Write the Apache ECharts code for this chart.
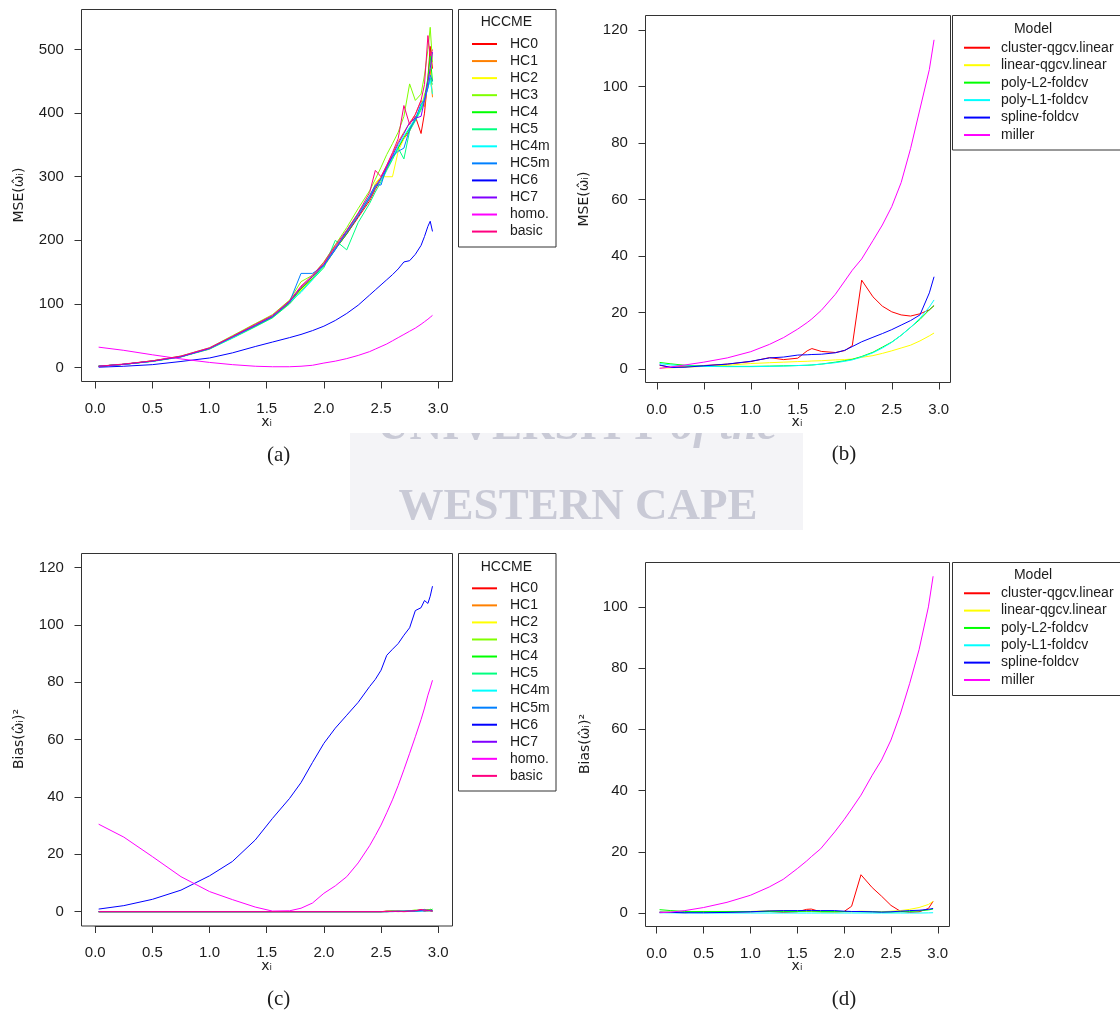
<!DOCTYPE html>
<html>
<head>
<meta charset="utf-8">
<script src="https://cdn.jsdelivr.net/npm/echarts@6/dist/echarts.min.js"></script>
<style>
  html, body { margin: 0; padding: 0; background: #fff; }
  #chart { width: 1120px; height: 1012px; }
</style>
</head>
<body>
<div id="chart"></div>
<script>
// ---------------- data ----------------
// x_i positions used by the HCCME panels (a) and (c)
const xHC = [0.03, 0.25, 0.5, 0.75, 1.0, 1.2, 1.4, 1.55, 1.7, 1.8, 1.9, 2.0, 2.1, 2.2, 2.3, 2.4, 2.45, 2.5, 2.55, 2.6, 2.65, 2.7, 2.75, 2.8, 2.85, 2.88, 2.91, 2.93, 2.95];

// (a) MSE of each HCCME
const mseHC0   = [2, 5, 10.5, 17, 30, 47, 65, 79, 101, 124, 140, 160, 186, 210, 236, 262, 280, 296, 312, 330, 346, 360, 372, 395, 368, 400, 455, 505, 470];
const mseHC1   = [2, 5, 10, 17.5, 29, 48, 67, 81, 104, 126, 143, 163, 190, 214, 241, 270, 287, 300, 318, 336, 355, 370, 385, 398, 420, 410, 450, 470, 425];
const mseHC2   = [2, 5, 10, 17, 30, 48, 66, 80, 102, 122, 140, 158, 186, 212, 238, 265, 290, 300, 300, 300, 340, 360, 378, 390, 410, 430, 440, 455, 430];
const mseHC3   = [2, 5, 10.5, 18, 31, 50, 69, 83, 106, 135, 145, 166, 193, 220, 250, 278, 296, 315, 335, 352, 370, 395, 446, 420, 430, 460, 500, 535, 480];
const mseHC4   = [2, 5, 10, 17, 30, 48, 65, 79, 102, 124, 140, 160, 186, 210, 238, 266, 283, 297, 313, 330, 345, 362, 376, 390, 408, 425, 455, 490, 450];
const mseHC5   = [2, 5, 9.5, 16.5, 29, 46, 64, 78, 100, 120, 138, 157, 200, 185, 228, 258, 276, 292, 310, 327, 345, 328, 372, 388, 405, 420, 440, 455, 445];
const mseHC4m  = [2, 5, 10, 17, 30, 47, 66, 80, 103, 118, 138, 160, 187, 214, 240, 268, 284, 296, 314, 330, 348, 364, 378, 392, 410, 425, 440, 452, 430];
const mseHC5m  = [2, 5, 10, 17, 30, 48, 66, 80, 103, 148, 148, 160, 185, 215, 242, 270, 287, 287, 316, 332, 340, 345, 375, 390, 415, 420, 440, 460, 450];
const mseHC6   = [0.5, 2, 4.5, 9.5, 15, 23, 33, 40, 47, 52, 58, 65, 74, 85, 98, 114, 122, 130, 138, 146, 155, 166, 168, 178, 192, 206, 222, 230, 214];
const mseHC7   = [2, 5, 10, 17, 30, 48, 66, 80, 103, 126, 143, 162, 188, 212, 238, 266, 284, 298, 315, 333, 352, 368, 385, 392, 395, 420, 450, 470, 496];
const mseHomo  = [32, 27, 20, 13.5, 8, 4.5, 2, 1.2, 1.2, 2, 3.5, 7, 10, 14, 19, 25, 29, 33, 37, 42, 47, 52, 57, 62, 68, 72, 76, 79, 82];
const mseBasic = [2, 5.5, 10.5, 18, 31, 49, 68, 82, 105, 128, 145, 165, 192, 216, 243, 275, 310, 300, 318, 338, 360, 412, 382, 398, 420, 445, 522, 490, 500];

// (c) squared bias: HC6 and homo. over the full x range
const biasHC6  = [0.9, 2.1, 4.3, 7.5, 12.5, 17.5, 25, 32.5, 39.5, 45, 52, 58.7, 64, 68.5, 73, 78.5, 81, 84.2, 89.4, 91.5, 93.5, 96.4, 99, 105, 106, 108.5, 107.5, 110, 113.5];
const biasHomo = [30.5, 26, 19.2, 12.2, 7, 4.2, 1.6, 0.2, 0.3, 1.2, 3, 6.4, 9, 12.2, 17, 23, 26.5, 30.2, 34.5, 39, 44, 49.5, 55.2, 61, 67, 71, 75.5, 78, 80.7];
// (c) squared bias of the remaining estimators, which stay close to zero
const xHCflat   = [0.03, 2.5, 2.55, 2.6, 2.65, 2.7, 2.75, 2.8, 2.85, 2.88, 2.91, 2.93, 2.95];
const biasHC0   = [0, 0, 0.2, 0.2, 0.1, 0, 0.1, 0.3, 0.5, 0.2, 0.4, 0.3, 0.1];
const biasHC1   = [0, 0, 0.1, 0.1, 0, 0.1, 0.2, 0.2, 0.6, 0.3, 0.2, 0.5, 0.2];
const biasHC2   = [0, 0, 0, 0.1, 0.1, 0.1, 0.2, 0.1, 0.4, 0.5, 0.3, 0.2, 0.4];
const biasHC3   = [0, 0, 0, 0.1, 0.2, 0.1, 0.3, 0.6, 0.3, 0.8, 0.4, 0.9, 0.5];
const biasHC4   = [0, 0, 0.1, 0.2, 0.1, 0.2, 0.3, 0.4, 0.6, 0.4, 0.7, 0.5, 0.9];
const biasHC5   = [0, 0, 0.1, 0.1, 0.2, 0.2, 0.3, 0.2, 0.3, 0.5, 0.4, 0.6, 0.3];
const biasHC4m  = [0, 0, 0, 0.1, 0.1, 0.2, 0.1, 0.3, 0.2, 0.4, 0.3, 0.2, 0.5];
const biasHC5m  = [0, 0, 0, 0, 0.1, 0.1, 0.2, 0.1, 0.3, 0.2, 0.4, 0.3, 0.2];
const biasHC7   = [0, 0, 0, 0.1, 0.1, 0.1, 0.2, 0.4, 0.5, 0.7, 0.3, 0.5, 0.4];
const biasBasic = [0, 0, 0.1, 0.1, 0.2, 0.1, 0.2, 0.3, 0.8, 0.4, 0.6, 0.3, 0.2];

// x_i positions used by the model panels (b) and (d)
const xModel = [0.03, 0.15, 0.3, 0.5, 0.75, 1.0, 1.2, 1.35, 1.5, 1.6, 1.65, 1.75, 1.9, 2.0, 2.08, 2.18, 2.3, 2.4, 2.5, 2.6, 2.7, 2.8, 2.9, 2.95];

// (b) MSE of each variance model
const mseCluster = [1.4, 0.7, 0.9, 1.3, 1.8, 2.7, 4.1, 3.4, 3.9, 6.5, 7.3, 6.3, 5.9, 6.6, 8.3, 31.5, 25.6, 22.3, 20.3, 19.2, 18.8, 19.6, 21, 22.5];
const mseLinear  = [0.4, 0.5, 0.7, 1.0, 1.4, 2.0, 2.3, 2.5, 2.7, 2.8, 2.9, 3.0, 3.3, 3.4, 3.6, 4.2, 4.8, 5.6, 6.5, 7.5, 8.5, 10.0, 11.8, 12.8];
const msePolyL2  = [2.4, 1.9, 1.4, 1.1, 1.0, 1.0, 1.1, 1.2, 1.3, 1.4, 1.5, 1.8, 2.5, 3.0, 3.5, 4.5, 6.0, 7.8, 9.6, 12, 14.8, 17.6, 21, 22.5];
const msePolyL1  = [2.0, 1.5, 1.2, 1.0, 0.9, 0.9, 1.0, 1.1, 1.3, 1.4, 1.5, 1.8, 2.3, 2.8, 3.3, 4.3, 5.8, 7.5, 9.5, 12, 14.8, 18, 22, 24.5];
const mseSpline  = [1.5, 0.6, 0.7, 1.2, 1.8, 2.8, 4.0, 4.3, 5.0, 5.1, 5.2, 5.3, 5.8, 6.7, 8.0, 9.7, 11.3, 12.6, 14, 15.6, 17.2, 19.2, 27, 32.7];
const mseMiller  = [0.3, 0.8, 1.5, 2.5, 4, 6.2, 8.8, 11.2, 14.2, 16.5, 17.8, 20.8, 26.5, 31.2, 35, 39, 45.5, 51, 57.5, 66, 78, 92, 106, 116.5];

// (d) squared bias of each variance model
const biasCluster = [0.2, 0.2, 0.1, 0.5, 0.3, 0.4, 0.5, 0.2, 0.4, 1.2, 1.3, 0.4, 0.3, 0.5, 2.2, 12.5, 8.3, 5.5, 2.5, 0.6, 0.2, 0.4, 1.5, 3.8];
const biasLinear  = [0.3, 0.3, 0.2, 0.2, 0.5, 0.5, 0.8, 0.8, 0.5, 0.5, 0.5, 0.3, 0.3, 0.4, 0.4, 0.6, 0.5, 0.4, 0.6, 0.8, 1.2, 1.8, 2.8, 3.8];
const biasPolyL2  = [1.1, 0.8, 0.5, 0.5, 0.5, 0.5, 0.5, 0.5, 0.5, 0.6, 0.6, 0.5, 0.5, 0.5, 0.5, 0.4, 0.4, 0.3, 0.3, 0.4, 0.5, 0.7, 1.0, 1.3];
const biasPolyL1  = [0.1, 0.05, 0.05, 0, 0, 0, 0, 0, 0, 0, 0, 0, 0, 0, 0, 0, 0, 0, 0, 0, 0, 0, 0.05, 0.1];
const biasSpline  = [0.3, 0.2, 0.1, 0.1, 0.2, 0.4, 0.7, 0.8, 0.8, 0.8, 0.8, 0.8, 0.8, 0.6, 0.5, 0.5, 0.4, 0.3, 0.4, 0.6, 0.8, 0.9, 1.2, 1.5];
const biasMiller  = [0.1, 0.3, 0.8, 1.8, 3.5, 5.8, 8.5, 11, 14.5, 17, 18.4, 21, 26.5, 30.5, 34, 38.5, 45, 50, 56.5, 65, 75, 86, 100, 110];

// series names and axis ticks (first tick, last tick, step)
const hcNames    = ['HC0', 'HC1', 'HC2', 'HC3', 'HC4', 'HC5', 'HC4m', 'HC5m', 'HC6', 'HC7', 'homo.', 'basic'];
const modelNames = ['cluster-qgcv.linear', 'linear-qgcv.linear', 'poly-L2-foldcv', 'poly-L1-foldcv', 'spline-foldcv', 'miller'];
const xTicks  = [0, 3, 0.5];
const yTicksA = [0, 500, 100];
const yTicksB = [0, 120, 20];
const yTicksC = [0, 120, 20];
const yTicksD = [0, 100, 20];

// ---------------- styling ----------------
const hcColors    = ['#FF0000', '#FF8000', '#FFFF00', '#80FF00', '#00FF00', '#00FF80', '#00FFFF', '#0080FF', '#0000FF', '#8000FF', '#FF00FF', '#FF0080'];
const modelColors = ['#FF0000', '#FFFF00', '#00FF00', '#00FFFF', '#0000FF', '#FF00FF'];
const SANS  = '"Liberation Sans", Arial, sans-serif';
const SERIF = '"Liberation Serif", "Times New Roman", serif';
const MATH  = '"DejaVu Sans", sans-serif';
const INK   = '#1c1c1c';
const FRAME = '#333333';

// plot boxes (pixels) and the data window each one shows
const panels = [
  { box: { l: 81.5,  t: 9.5,   w: 371, h: 372 },   x: [-0.12, 3.125], y: [-22, 563],    yTicks: yTicksA },
  { box: { l: 645.5, t: 15.5,  w: 305, h: 367 },   x: [-0.12, 3.125], y: [-4.7, 125.1], yTicks: yTicksB },
  { box: { l: 81.5,  t: 553.5, w: 371, h: 372.5 }, x: [-0.12, 3.125], y: [-5, 124.9],   yTicks: yTicksC },
  { box: { l: 645.5, t: 562.5, w: 304, h: 364 },   x: [-0.12, 3.125], y: [-4.4, 114.5], yTicks: yTicksD }
];

const zip = (xs, ys) => ys.map((v, i) => [xs[i], v]);

// Framed plotting grids carry the curves; their own axes stay hidden.
const grids = [], xAxes = [], yAxes = [];
panels.forEach((p, i) => {
  const b = p.box;
  grids.push({ left: b.l, top: b.t, width: b.w, height: b.h,
               show: true, borderColor: FRAME, borderWidth: 1, backgroundColor: 'transparent' });
  xAxes.push({ type: 'value', gridIndex: i, min: p.x[0], max: p.x[1], show: false });
  yAxes.push({ type: 'value', gridIndex: i, min: p.y[0], max: p.y[1], show: false });
});

// Tick scales: one grid per axis spanning exactly the first-to-last tick.
// The companion (hidden) axis runs from -PAD to 1 so that its zero, where the
// visible axis line and ticks sit, falls exactly on the frame edge; the labels
// are laid out from the tick grid's outer edge, PAD of a box beyond the frame.
const PAD = 0.02;
const X_LABEL_GAP = 19.6;   // frame edge to label distance, horizontal scale
const Y_LABEL_GAP = 17.6;   // frame edge to label distance, vertical scale
const tickAxis = (gridIndex, t, fmt, margin) => ({
  type: 'value', gridIndex, min: t[0], max: t[1], interval: t[2],
  splitLine: { show: false },
  axisLine: { show: true, onZero: true, lineStyle: { color: FRAME, width: 1 } },
  axisTick: { show: true, length: 7, lineStyle: { color: FRAME, width: 1 } },
  axisLabel: { show: true, margin, formatter: fmt, fontFamily: SANS, fontSize: 15, color: INK,
               showMinLabel: true, showMaxLabel: true }
});
const hiddenAxis = gridIndex => ({ type: 'value', gridIndex, min: -PAD, max: 1, show: false });

panels.forEach(p => {
  const b = p.box;
  const px = v => b.l + (v - p.x[0]) / (p.x[1] - p.x[0]) * b.w;
  const py = v => b.t + b.h - (v - p.y[0]) / (p.y[1] - p.y[0]) * b.h;
  // horizontal scale along the bottom edge
  let g = grids.length;
  grids.push({ left: px(xTicks[0]), width: px(xTicks[1]) - px(xTicks[0]),
               top: b.t, height: b.h * (1 + PAD), show: false });
  xAxes.push(tickAxis(g, xTicks, v => v.toFixed(1), X_LABEL_GAP - PAD * b.h));
  yAxes.push(hiddenAxis(g));
  // vertical scale along the left edge
  g = grids.length;
  grids.push({ left: b.l - b.w * PAD, width: b.w * (1 + PAD),
               top: py(p.yTicks[1]), height: py(p.yTicks[0]) - py(p.yTicks[1]), show: false });
  yAxes.push(tickAxis(g, p.yTicks, v => String(v), Y_LABEL_GAP - PAD * b.w));
  xAxes.push(hiddenAxis(g));
});

function line(name, color, idx, data) {
  return {
    type: 'line', name, xAxisIndex: idx, yAxisIndex: idx, data,
    showSymbol: false, symbol: 'none', silent: true, animation: false,
    lineStyle: { color, width: 1 }, itemStyle: { color },
    emphasis: { disabled: true }
  };
}

const seriesA = [mseHC0, mseHC1, mseHC2, mseHC3, mseHC4, mseHC5, mseHC4m, mseHC5m, mseHC6, mseHC7, mseHomo, mseBasic]
  .map((ys, k) => line(hcNames[k], hcColors[k], 0, zip(xHC, ys)));

const cFlat = { HC0: biasHC0, HC1: biasHC1, HC2: biasHC2, HC3: biasHC3, HC4: biasHC4, HC5: biasHC5,
                HC4m: biasHC4m, HC5m: biasHC5m, HC7: biasHC7, basic: biasBasic };
const seriesC = hcNames.map((n, k) => {
  if (n === 'HC6')   return line(n, hcColors[k], 2, zip(xHC, biasHC6));
  if (n === 'homo.') return line(n, hcColors[k], 2, zip(xHC, biasHomo));
  return line(n, hcColors[k], 2, zip(xHCflat, cFlat[n]));
});

const seriesB = [mseCluster, mseLinear, msePolyL2, msePolyL1, mseSpline, mseMiller]
  .map((ys, k) => line(modelNames[k], modelColors[k], 1, zip(xModel, ys)));
const seriesD = [biasCluster, biasLinear, biasPolyL2, biasPolyL1, biasSpline, biasMiller]
  .map((ys, k) => line(modelNames[k], modelColors[k], 3, zip(xModel, ys)));

function legend(names, left, top, rowH, textPad, itemW) {
  return {
    orient: 'vertical', left, top, padding: 0, itemGap: 0,
    itemWidth: itemW, itemHeight: 2, icon: 'rect', selectedMode: false,
    data: names,
    textStyle: { fontFamily: SANS, fontSize: 14, color: INK, lineHeight: rowH, padding: [0, 0, 0, textPad] }
  };
}

// ---------------- decorations: frames, titles, captions ----------------
const txt = (x, y, text, font, extra) => Object.assign({
  type: 'text', x, y, z: 10, silent: true,
  style: Object.assign({ text, font, fill: INK, align: 'center', verticalAlign: 'middle' }, extra || {})
});
const frame = (x, y, w, h) => ({
  type: 'rect', z: 10, silent: true, shape: { x, y, width: w, height: h },
  style: { fill: 'none', stroke: FRAME, lineWidth: 1 }
});
const rot = Math.PI / 2;
const MARK = '#c9cad6';

const graphics = [
  // university watermark sitting behind the figures
  { type: 'rect', z: -5, silent: true, shape: { x: 350, y: 433, width: 453, height: 97 }, style: { fill: '#f4f4f7' } },
  { type: 'text', z: -4, silent: true, x: 577, y: 427.5,
    style: { text: '{u|UNIVERSITY }{i|of the}', align: 'center', verticalAlign: 'middle', fill: MARK,
             rich: { u: { font: 'bold 45px ' + SERIF, fill: MARK }, i: { font: 'italic bold 45px ' + SERIF, fill: MARK } } } },
  { type: 'text', z: -4, silent: true, x: 578, y: 507,
    style: { text: 'WESTERN CAPE', font: 'bold 45px ' + SERIF, fill: MARK, align: 'center', verticalAlign: 'middle' } },
  { type: 'rect', z: -3, silent: true, shape: { x: 340, y: 384, width: 480, height: 49 }, style: { fill: '#ffffff' } },

  // legend frames and headings
  frame(458.5, 9.5, 97.5, 237.5),
  frame(458.5, 553.5, 97.5, 237.5),
  frame(952.5, 15.5, 200, 134.5),
  frame(952.5, 562.5, 200, 133),
  txt(506.4, 22.5, 'HCCME', '14px ' + SANS),
  txt(506.4, 566.7, 'HCCME', '14px ' + SANS),
  txt(1033, 29, 'Model', '14px ' + SANS),
  txt(1033, 575, 'Model', '14px ' + SANS),

  // axis titles
  txt(266.6, 422, 'x\u1D62', '14px ' + MATH),
  txt(797, 422.5, 'x\u1D62', '14px ' + MATH),
  txt(266.6, 966.5, 'x\u1D62', '14px ' + MATH),
  txt(797, 966.5, 'x\u1D62', '14px ' + MATH),
  Object.assign(txt(19.6, 195, 'MSE(\u03C9\u0302\u1D62)', '14px ' + MATH), { rotation: rot }),
  Object.assign(txt(584.5, 199, 'MSE(\u03C9\u0302\u1D62)', '14px ' + MATH), { rotation: rot }),
  Object.assign(txt(19.6, 739, 'Bias(\u03C9\u0302\u1D62)\u00B2', '14px ' + MATH), { rotation: rot }),
  Object.assign(txt(585, 744, 'Bias(\u03C9\u0302\u1D62)\u00B2', '14px ' + MATH), { rotation: rot }),

  // sub-figure captions
  txt(278.6, 455, '(a)', '21px ' + SERIF),
  txt(844, 454, '(b)', '21px ' + SERIF),
  txt(278.6, 999, '(c)', '21px ' + SERIF),
  txt(844, 999, '(d)', '21px ' + SERIF)
];

const chart = echarts.init(document.getElementById('chart'), null, { renderer: 'canvas' });
chart.setOption({
  backgroundColor: '#ffffff',
  animation: false,
  grid: grids,
  xAxis: xAxes,
  yAxis: yAxes,
  legend: [
    legend(hcNames, 472, 35.5, 17.05, 8, 25),
    legend(hcNames, 472, 579.8, 17.05, 8, 25),
    legend(modelNames, 964, 39, 17.46, 6, 26),
    legend(modelNames, 964, 584.6, 17.34, 6, 26)
  ],
  graphic: graphics,
  series: [].concat(seriesA, seriesB, seriesC, seriesD)
});
</script>
</body>
</html>
